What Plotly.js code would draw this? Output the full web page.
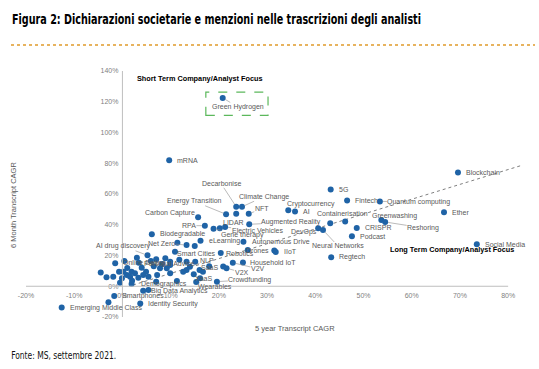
<!DOCTYPE html>
<html><head><meta charset="utf-8">
<script src="https://cdn.plot.ly/plotly-3.0.1.min.js"></script>
<style>html,body{margin:0;padding:0;background:#fff}#chart{width:539px;height:369px}</style>
</head><body><div id="chart"></div>
<script>
// ---- data ----
const labeledNames = ['Green Hydrogen','mRNA','Blockchain','5G','Fintech','Quantum computing','Ether','Social Media',
 'Cryptocurrency','AI','Containerisation','Greenwashing','Reshoring','CRISPR','Podcast','Regtech','Augmented Reality',
 'DevOps','Neural Networks','Decarbonise','Climate Change','NFT','Energy Transition','LIDAR','Carbon Capture','RPA',
 'Gene therapy','Electric Vehicles','eLearning','Biodegradable','Net Zero','AI drug discovery','Autonomous Drive',
 'Smart Cities','Robotics','Drones','IIoT','Household IoT','V2V','SaaS','V2X','XaaS','Crowdfunding','Wearables','NLP',
 'Online Dating','Personal Advice','Demographics','Big Data Analytics','Smartphones','Identity Security','Emerging Middle Class'];
const labeledX = [20.8,9.7,69.6,43.2,46.6,53.4,66.7,73.5,
 34.4,35.8,46.2,53.7,54.5,48.6,47.6,43.3,26.3,
 40.6,41.6,23.6,24.8,26.2,21.5,23.6,15.7,17.1,
 18.9,21.3,16.2,6.1,13.3,5.2,25.1,
 20.4,26.0,31.5,31.8,25.0,22.9,20.9,21.6,16.7,19.6,15.3,14.0,
 -1.5,15.1,1.9,4.3,-1.7,3.7,-12.6];
const labeledY = [122.5,82.0,74.0,63.0,55.8,55.2,48.1,27.3,
 49.5,48.6,42.1,43.1,41.8,37.9,32.5,18.8,40.3,
 37.7,36.6,51.7,51.7,47.1,46.8,47.1,44.8,39.4,
 37.4,38.5,29.6,33.8,26.8,20.1,29.0,
 21.6,23.6,23.2,22.3,15.5,15.3,12.9,11.7,9.5,3.0,2.8,12.7,
 14.9,16.0,1.5,-2.9,-6.3,-11.3,-13.9];
const otherX = [-3.3,-1.9,-0.7,-0.1,0.9,1.6,1.9,2.6,3.3,4.0,4.9,5.4,7.2,7.8,9.2,9.9,11.3,5.4,0.2,4.3,
 13.3,16.0,13.3,9.9,10.9,0.4,3.4,5.9,7.0,8.9,11.8,9.9,12.6,16.1,-2.9,11.4,15.0,20.2,43.1,
 -0.5,2.0,7.0,8.2,14.8,18.0,6.5,1.0,-4.5,3.0];
const otherY = [5.8,6.2,9.5,5.2,7.3,6.2,9.5,8.4,5.6,12.1,9.5,6.2,7.3,11.7,11.7,8.4,3.4,-2.4,9.5,7.3,
 16.0,10.6,10.6,13.8,22.5,16.4,15.3,16.4,17.5,18.2,17.3,16.0,9.5,5.2,-10.4,28.3,26.2,37.7,40.9,
 2.3,3.5,3.0,14.5,7.8,13.0,13.0,11.8,9.0,18.5];
const trendX = [2.2, 83];
const trendY = [0.8, 78.8];
const xTickVals = [-20,-10,0,10,20,30,40,50,60,70,80];
const xTickText = ['-20%','-10%','0%','10%','20%','30%','40%','50%','60%','70%','80%'];
const yTickVals = [-20,0,20,40,60,80,100,120,140];
const yTickText = ['-20%','0%','20%','40%','60%','80%','100%','120%','140%'];

// ---- label placement (pixels) ----
const labelPos = {
 'Green Hydrogen':['a',15,9],'mRNA':['r',6,0],'Blockchain':['r',6,0],'5G':['r',6,0],'Fintech':['r',6,0],
 'Quantum computing':['a',39,0.5],'Ether':['r',6,0],'Social Media':['r',6,0],'Cryptocurrency':['c',23,-6],
 'AI':['r',6,0],'Containerisation':['c',-3,-8],'Greenwashing':['c',13,-3.5],'Reshoring':['a',38,6],
 'CRISPR':['r',6,0],'Podcast':['r',6,0],'Regtech':['r',6,0],'Augmented Reality':['a',42,-2],
 'DevOps':['c',-14,4],'Neural Networks':['a',15,16],'Decarbonise':['a',-15,-23],'Climate Change':['a',22,-10],
 'NFT':['a',13,-5],'Energy Transition':['a',-32,-13],'LIDAR':['c',-3,9],'Carbon Capture':['c',-28,-4],
 'RPA':['a',-16,0],'Gene therapy':['a',29,6],'Electric Vehicles':['a',32,3.5],'eLearning':['r',6,0],
 'Biodegradable':['r',6,0],'Net Zero':['a',-25,-2],'AI drug discovery':['a',-24,-9],'Autonomous Drive':['r',7,0],
 'Smart Cities':['l',3,0],'Robotics':['c',-8,4],'Drones':['l',3,0],'IIoT':['r',6,0],'Household IoT':['r',5,0],
 'V2V':['a',25,6],'SaaS':['l',3,1],'V2X':['a',15,4],'XaaS':['c',1,7],'Crowdfunding':['a',33,-2],
 'Wearables':['a',19,5],'NLP':['a',17,-6],'Online Dating':['r',6,0],'Personal Advice':['a',-26,1.6],
 'Demographics':['r',7,0],'Big Data Analytics':['r',6,0],'Smartphones':['r',6,0],'Identity Security':['r',6,0],
 'Emerging Middle Class':['r',6,0]
};

const FONT = 'Liberation Sans, Arial, sans-serif';
const NARROW = 'Liberation Sans Narrow, Arial Narrow, DejaVu Sans Condensed, sans-serif';
const BLUE = '#1F63A6';
const LBL = '#595959';

const annotations = [];
labeledNames.forEach((n,i)=>{
  const p = labelPos[n] || ['r',6,0];
  const base = {x:labeledX[i], y:labeledY[i], xref:'x', yref:'y', text:n,
    font:{family:FONT,size:7,color:LBL}, yanchor:'middle'};
  if (p[0]==='a') {
    Object.assign(base,{showarrow:true, arrowhead:0, arrowwidth:0.6, arrowcolor:'#8c8c8c',
      ax:p[1], ay:p[2], axref:'pixel', ayref:'pixel', xanchor:'center', borderpad:0, standoff:3});
  } else if (p[0]==='r') {
    Object.assign(base,{showarrow:false, xanchor:'left', xshift:p[1], yshift:-p[2]});
  } else if (p[0]==='l') {
    Object.assign(base,{showarrow:false, xanchor:'right', xshift:-p[1], yshift:-p[2]});
  } else {
    Object.assign(base,{showarrow:false, xanchor:'center', xshift:p[1], yshift:-p[2]});
  }
  annotations.push(base);
});

const SOURCE = 'Fonte: MS, settembre 2021.';
annotations.push(
 {xref:'paper',yref:'paper',x:(135-26)/499,y:(317-79)/246,xanchor:'left',yanchor:'middle',showarrow:false,
  text:'<b>Short Term Company/Analyst Focus</b>',font:{family:FONT,size:7.3,color:'#000'}},
 {xref:'paper',yref:'paper',x:(516-26)/499,y:(317-249)/246,xanchor:'right',yanchor:'middle',showarrow:false,
  text:'<b>Long Term Company/Analyst Focus</b>',font:{family:FONT,size:7.3,color:'#000'}},
 {xref:'paper',yref:'paper',x:(295-26)/499,y:(317-328)/246,xanchor:'center',yanchor:'middle',showarrow:false,
  text:'5 year Transcript CAGR',font:{family:FONT,size:7.5,color:LBL}},
 {xref:'paper',yref:'paper',x:(13-26)/499,y:(317-205)/246,xanchor:'center',yanchor:'middle',showarrow:false,
  textangle:-90,text:'6 Month Transcript CAGR',font:{family:FONT,size:7.5,color:LBL}},
 {xref:'paper',yref:'paper',x:(63.5-26)/499,y:(317-355)/246,xanchor:'center',yanchor:'middle',showarrow:false,
  text:SOURCE,font:{family:NARROW,size:10.5,color:'#111'}}
);

const shapes = [
 {type:'line',xref:'x',yref:'y',x0:-20,x1:80,y0:0,y1:0,line:{color:'#bfbfbf',width:1}},
 {type:'line',xref:'x',yref:'y',x0:0,x1:0,y0:-20,y1:140,line:{color:'#bfbfbf',width:1}},
 {type:'rect',xref:'x',yref:'y',x0:17.3,x1:30.2,y0:111.2,y1:126.2,line:{color:'#5CB85C',width:1.2,dash:'dash'}},
 {type:'line',xref:'paper',yref:'paper',x0:(11-26)/499,x1:(535-26)/499,y0:(317-45)/246,y1:(317-45)/246,
  line:{color:'#E09A2B',width:1.5,dash:'dot'}}
];

const traces = [
 {x:trendX,y:trendY,mode:'lines',line:{color:'#7f7f7f',width:1,dash:'dot'},hoverinfo:'skip',showlegend:false},
 {x:otherX,y:otherY,mode:'markers',marker:{color:BLUE,size:6},showlegend:false},
 {x:labeledX,y:labeledY,mode:'markers',marker:{color:BLUE,size:6},text:labeledNames,showlegend:false}
];

const layout = {
  width:539,height:369,paper_bgcolor:'#fff',plot_bgcolor:'#fff',
  margin:{l:26,r:14,t:71,b:52},
  showlegend:false,
  title:{text:'Figura 2: Dichiarazioni societarie e menzioni nelle trascrizioni degli analisti',
    font:{family:NARROW,size:13.5,color:'#000',weight:'bold'},
    x:12/539,xref:'container',xanchor:'left',y:1-19/369,yref:'container',yanchor:'middle'},
  xaxis:{range:[-20,83.5],anchor:'free',position:0.125,showgrid:false,zeroline:false,showline:false,
    tickmode:'array',tickvals:xTickVals,ticktext:xTickText,ticks:'',ticklabelstandoff:4,
    tickfont:{family:FONT,size:7,color:'#7f7f7f'},automargin:false,fixedrange:true},
  yaxis:{range:[-20,140],anchor:'free',position:20/103.5,showgrid:false,zeroline:false,showline:false,
    tickmode:'array',tickvals:yTickVals,ticktext:yTickText,ticks:'',ticklabelstandoff:4,
    tickfont:{family:FONT,size:7,color:'#7f7f7f'},automargin:false,fixedrange:true},
  annotations:annotations,shapes:shapes
};
Plotly.newPlot('chart',traces,layout,{displayModeBar:false,staticPlot:true}).then(()=>{
  // condense the header/source text to the narrow widths of the reference
  const t = document.querySelector('.gtitle');
  if (t) { t.setAttribute('textLength','409'); t.setAttribute('lengthAdjust','spacingAndGlyphs'); }
  document.querySelectorAll('.annotation-text').forEach(el=>{
    if (el.textContent===SOURCE) { el.setAttribute('textLength','105'); el.setAttribute('lengthAdjust','spacingAndGlyphs'); }
  });
});
</script></body></html>
